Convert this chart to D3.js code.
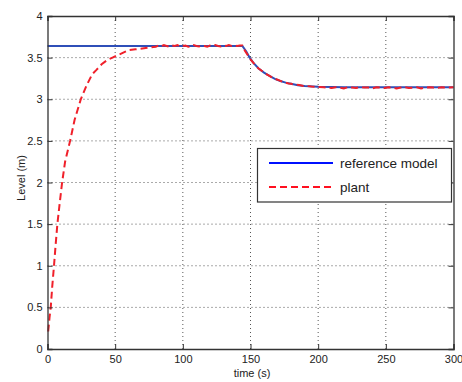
<!DOCTYPE html>
<html><head><meta charset="utf-8">
<script src="https://cdn.jsdelivr.net/npm/d3@7"></script>
<style>body{margin:0;background:#fff}svg{display:block}text{font-family:"Liberation Sans",Arial,sans-serif}</style>
</head><body><svg id="c" width="462" height="382"></svg>
<script>
const xTicks = [0,50,100,150,200,250,300];
const yTicks = [0,0.5,1,1.5,2,2.5,3,3.5,4];
const seriesNames = ["reference model","plant"];

const refTime  = [0,144,147,149,152,156,160,164,168,172,176,180,185,190,200,210,220,300];
const refLevel = [3.64,3.64,3.57,3.51,3.44,3.37,3.32,3.28,3.245,3.22,3.2,3.185,3.168,3.158,3.15,3.147,3.145,3.145];

const plantTime = [0.5,1.5,2.4,3.5,4.8,6,7.3,9,10.8,13,16.7,20,24.6,29,33,36,40,44,48,52,56,60,65,70,75,
  80,82,84,86,88,90,92,94,96,98,100,102,104,106,108,110,112,114,116,118,120,122,124,126,128,130,132,134,136,138,140,142,144,
  146,148,150,152,154,156,158,160,162,164,166,168,170,172,174,176,178,180,183,186,189,192,195,198,201,
  204,207,210,213,216,219,222,225,228,231,234,237,240,243,246,249,252,255,258,261,264,267,270,273,276,279,282,285,288,291,294,297,300];
const plantLevel = [0.21,0.38,0.5,0.75,1.0,1.25,1.5,1.75,2.0,2.25,2.5,2.75,3.0,3.17,3.3,3.35,3.42,3.47,3.5,3.53,3.56,3.59,3.6,3.61,3.62,
  3.63,3.645,3.635,3.65,3.64,3.63,3.645,3.64,3.65,3.635,3.64,3.645,3.63,3.64,3.65,3.64,3.635,3.645,3.64,3.63,3.645,3.64,3.65,3.64,3.635,3.645,3.64,3.65,3.64,3.645,3.64,3.645,3.645,
  3.58,3.53,3.48,3.44,3.40,3.37,3.345,3.32,3.30,3.28,3.26,3.245,3.235,3.22,3.21,3.2,3.19,3.185,3.175,3.17,3.16,3.158,3.152,3.15,3.148,
  3.145,3.14,3.135,3.145,3.14,3.13,3.145,3.14,3.135,3.145,3.14,3.14,3.13,3.145,3.14,3.135,3.145,3.14,3.13,3.14,3.145,3.135,3.14,3.145,3.13,3.14,3.145,3.14,3.135,3.145,3.14,3.14,3.145];

const svg = d3.select("#c");
const L=47.5, R=453.5, T=16, B=349;
const x = d3.scaleLinear().domain([0,300]).range([L,R]);
const y = d3.scaleLinear().domain([0,4]).range([B,T]);

// grid
const g = svg.append("g");
xTicks.slice(1,-1).forEach(t=>g.append("line").attr("x1",x(t)).attr("x2",x(t)).attr("y1",T).attr("y2",B)
  .attr("stroke","#555").attr("stroke-width",1).attr("stroke-dasharray","1,3"));
yTicks.slice(1,-1).forEach(t=>g.append("line").attr("x1",L).attr("x2",R).attr("y1",y(t)).attr("y2",y(t))
  .attr("stroke","#555").attr("stroke-width",1).attr("stroke-dasharray","1,3"));

// lines
const line = d3.line().x(d=>x(d[0])).y(d=>y(d[1]));
svg.append("path").datum(refTime.map((t,i)=>[t,refLevel[i]])).attr("d",line)
  .attr("fill","none").attr("stroke","#2f4fb8").attr("stroke-width",2);
svg.append("path").datum(plantTime.map((t,i)=>[t,plantLevel[i]])).attr("d",line)
  .attr("fill","none").attr("stroke","#f0202a").attr("stroke-width",2).attr("stroke-dasharray","7,4");

// axes
const fmt = d=>String(d);
const axB = svg.append("g").attr("transform",`translate(0,${B})`).call(d3.axisBottom(x).tickValues(xTicks).tickSize(-5).tickPadding(6).tickFormat(fmt));
const axT = svg.append("g").attr("transform",`translate(0,${T})`).call(d3.axisTop(x).tickValues(xTicks).tickSize(-5).tickFormat(""));
const axL = svg.append("g").attr("transform",`translate(${L},0)`).call(d3.axisLeft(y).tickValues(yTicks).tickSize(-5).tickPadding(5).tickFormat(fmt));
const axRr = svg.append("g").attr("transform",`translate(${R},0)`).call(d3.axisRight(y).tickValues(yTicks).tickSize(-5).tickFormat(""));
[axB,axT,axL,axRr].forEach(a=>{
  a.select(".domain").attr("stroke","#333").attr("stroke-width",1.3);
  a.selectAll(".tick line").attr("stroke","#333");
  a.selectAll("text").attr("fill","#222").style("font-size","11px").style("font-family","'Liberation Sans',Arial,sans-serif");
});

svg.append("text").attr("x",252).attr("y",377).attr("text-anchor","middle").attr("fill","#222")
  .style("font-size","11px").text("time (s)");
svg.append("text").attr("transform","translate(25,178) rotate(-90)").attr("text-anchor","middle").attr("fill","#222")
  .style("font-size","11px").text("Level (m)");

// legend
const lg = svg.append("g");
lg.append("rect").attr("x",257.5).attr("y",148.5).attr("width",194).attr("height",53.5)
  .attr("fill","#fff").attr("stroke","#333").attr("stroke-width",1.2);
lg.append("line").attr("x1",269).attr("x2",333).attr("y1",163).attr("y2",163).attr("stroke","#0010ff").attr("stroke-width",2);
lg.append("line").attr("x1",269).attr("x2",333).attr("y1",187).attr("y2",187).attr("stroke","#ff1020").attr("stroke-width",2).attr("stroke-dasharray","7,4");
lg.append("text").attr("x",340).attr("y",167.5).attr("fill","#222").style("font-size","13.5px").text(seriesNames[0]);
lg.append("text").attr("x",340).attr("y",191.5).attr("fill","#222").style("font-size","13.5px").text(seriesNames[1]);
</script></body></html>
